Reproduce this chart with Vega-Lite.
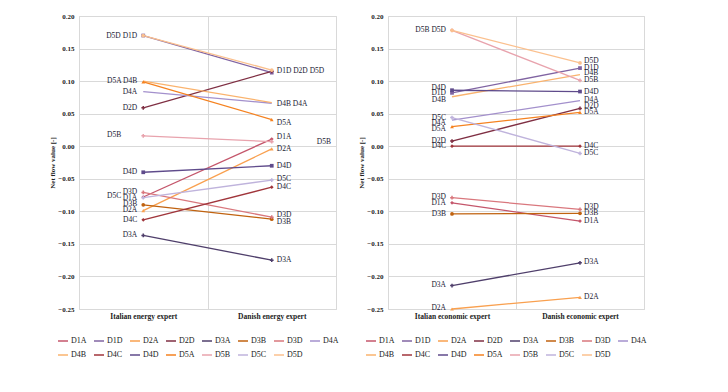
{
  "$schema": "https://vega.github.io/schema/vega-lite/v6.json",
  "padding": {"left": 48, "top": 11, "right": 5, "bottom": 5},
  "spacing": 17,
  "background": "white",
  "config": {
    "view": {"stroke": "#d9d9d9", "strokeWidth": 1},
    "font": "Liberation Serif",
    "axis": {"labelFont": "Liberation Serif", "titleFont": "Liberation Serif", "labelFontWeight": "bold", "titleFontWeight": "bold", "labelColor": "#222", "titleColor": "#222", "gridColor": "#d9d9d9", "domainColor": "#d9d9d9", "ticks": false, "labelOverlap": false},
    "legend": {"labelFont": "Liberation Serif", "labelFontSize": 8, "labelColor": "#222"}
  },
  "datasets": {
    "pts": [
      {"panel": "energy", "expert": "Italian energy expert", "series": "D1A", "value": -0.078},
      {"panel": "energy", "expert": "Danish energy expert", "series": "D1A", "value": 0.011},
      {"panel": "energy", "expert": "Italian energy expert", "series": "D1D", "value": 0.170},
      {"panel": "energy", "expert": "Danish energy expert", "series": "D1D", "value": 0.113},
      {"panel": "energy", "expert": "Italian energy expert", "series": "D2A", "value": -0.099},
      {"panel": "energy", "expert": "Danish energy expert", "series": "D2A", "value": -0.004},
      {"panel": "energy", "expert": "Italian energy expert", "series": "D2D", "value": 0.059},
      {"panel": "energy", "expert": "Danish energy expert", "series": "D2D", "value": 0.115},
      {"panel": "energy", "expert": "Italian energy expert", "series": "D3A", "value": -0.137},
      {"panel": "energy", "expert": "Danish energy expert", "series": "D3A", "value": -0.175},
      {"panel": "energy", "expert": "Italian energy expert", "series": "D3B", "value": -0.090},
      {"panel": "energy", "expert": "Danish energy expert", "series": "D3B", "value": -0.112},
      {"panel": "energy", "expert": "Italian energy expert", "series": "D3D", "value": -0.071},
      {"panel": "energy", "expert": "Danish energy expert", "series": "D3D", "value": -0.109},
      {"panel": "energy", "expert": "Italian energy expert", "series": "D4A", "value": 0.084},
      {"panel": "energy", "expert": "Danish energy expert", "series": "D4A", "value": 0.066},
      {"panel": "energy", "expert": "Italian energy expert", "series": "D4B", "value": 0.100},
      {"panel": "energy", "expert": "Danish energy expert", "series": "D4B", "value": 0.067},
      {"panel": "energy", "expert": "Italian energy expert", "series": "D4C", "value": -0.113},
      {"panel": "energy", "expert": "Danish energy expert", "series": "D4C", "value": -0.063},
      {"panel": "energy", "expert": "Italian energy expert", "series": "D4D", "value": -0.040},
      {"panel": "energy", "expert": "Danish energy expert", "series": "D4D", "value": -0.030},
      {"panel": "energy", "expert": "Italian energy expert", "series": "D5A", "value": 0.099},
      {"panel": "energy", "expert": "Danish energy expert", "series": "D5A", "value": 0.041},
      {"panel": "energy", "expert": "Italian energy expert", "series": "D5B", "value": 0.016},
      {"panel": "energy", "expert": "Danish energy expert", "series": "D5B", "value": 0.007},
      {"panel": "energy", "expert": "Italian energy expert", "series": "D5C", "value": -0.079},
      {"panel": "energy", "expert": "Danish energy expert", "series": "D5C", "value": -0.052},
      {"panel": "energy", "expert": "Italian energy expert", "series": "D5D", "value": 0.170},
      {"panel": "energy", "expert": "Danish energy expert", "series": "D5D", "value": 0.117},

      {"panel": "economic", "expert": "Italian economic expert", "series": "D1A", "value": -0.087},
      {"panel": "economic", "expert": "Danish economic expert", "series": "D1A", "value": -0.115},
      {"panel": "economic", "expert": "Italian economic expert", "series": "D1D", "value": 0.082},
      {"panel": "economic", "expert": "Danish economic expert", "series": "D1D", "value": 0.120},
      {"panel": "economic", "expert": "Italian economic expert", "series": "D2A", "value": -0.250},
      {"panel": "economic", "expert": "Danish economic expert", "series": "D2A", "value": -0.232},
      {"panel": "economic", "expert": "Italian economic expert", "series": "D2D", "value": 0.008},
      {"panel": "economic", "expert": "Danish economic expert", "series": "D2D", "value": 0.058},
      {"panel": "economic", "expert": "Italian economic expert", "series": "D3A", "value": -0.214},
      {"panel": "economic", "expert": "Danish economic expert", "series": "D3A", "value": -0.179},
      {"panel": "economic", "expert": "Italian economic expert", "series": "D3B", "value": -0.104},
      {"panel": "economic", "expert": "Danish economic expert", "series": "D3B", "value": -0.103},
      {"panel": "economic", "expert": "Italian economic expert", "series": "D3D", "value": -0.079},
      {"panel": "economic", "expert": "Danish economic expert", "series": "D3D", "value": -0.097},
      {"panel": "economic", "expert": "Italian economic expert", "series": "D4A", "value": 0.040},
      {"panel": "economic", "expert": "Danish economic expert", "series": "D4A", "value": 0.070},
      {"panel": "economic", "expert": "Italian economic expert", "series": "D4B", "value": 0.076},
      {"panel": "economic", "expert": "Danish economic expert", "series": "D4B", "value": 0.110},
      {"panel": "economic", "expert": "Italian economic expert", "series": "D4C", "value": 0.000},
      {"panel": "economic", "expert": "Danish economic expert", "series": "D4C", "value": 0.000},
      {"panel": "economic", "expert": "Italian economic expert", "series": "D4D", "value": 0.086},
      {"panel": "economic", "expert": "Danish economic expert", "series": "D4D", "value": 0.084},
      {"panel": "economic", "expert": "Italian economic expert", "series": "D5A", "value": 0.030},
      {"panel": "economic", "expert": "Danish economic expert", "series": "D5A", "value": 0.052},
      {"panel": "economic", "expert": "Italian economic expert", "series": "D5B", "value": 0.178},
      {"panel": "economic", "expert": "Danish economic expert", "series": "D5B", "value": 0.101},
      {"panel": "economic", "expert": "Italian economic expert", "series": "D5C", "value": 0.044},
      {"panel": "economic", "expert": "Danish economic expert", "series": "D5C", "value": -0.011},
      {"panel": "economic", "expert": "Italian economic expert", "series": "D5D", "value": 0.178},
      {"panel": "economic", "expert": "Danish economic expert", "series": "D5D", "value": 0.128}
    ],
    "labs": [
      {"panel": "energy", "expert": "Italian energy expert", "label": "D5D  D1D", "value": 0.170},
      {"panel": "energy", "expert": "Italian energy expert", "label": "D5A  D4B", "value": 0.100},
      {"panel": "energy", "expert": "Italian energy expert", "label": "D4A", "value": 0.084},
      {"panel": "energy", "expert": "Italian energy expert", "label": "D2D", "value": 0.059},
      {"panel": "energy", "expert": "Italian energy expert", "label": "D5B", "value": 0.017},
      {"panel": "energy", "expert": "Italian energy expert", "label": "D4D", "value": -0.040},
      {"panel": "energy", "expert": "Italian energy expert", "label": "D3D", "value": -0.070},
      {"panel": "energy", "expert": "Italian energy expert", "label": "D5C", "value": -0.077},
      {"panel": "energy", "expert": "Italian energy expert", "label": "D1A", "value": -0.0795},
      {"panel": "energy", "expert": "Italian energy expert", "label": "D3B", "value": -0.088},
      {"panel": "energy", "expert": "Italian energy expert", "label": "D2A", "value": -0.098},
      {"panel": "energy", "expert": "Italian energy expert", "label": "D4C", "value": -0.113},
      {"panel": "energy", "expert": "Italian energy expert", "label": "D3A", "value": -0.137},
      {"panel": "energy", "expert": "Danish energy expert", "label": "D1D  D2D   D5D", "value": 0.115},
      {"panel": "energy", "expert": "Danish energy expert", "label": "D4B  D4A", "value": 0.065},
      {"panel": "energy", "expert": "Danish energy expert", "label": "D5A", "value": 0.036},
      {"panel": "energy", "expert": "Danish energy expert", "label": "D1A", "value": 0.014},
      {"panel": "energy", "expert": "Danish energy expert", "label": "D5B", "value": 0.007},
      {"panel": "energy", "expert": "Danish energy expert", "label": "D2A", "value": -0.005},
      {"panel": "energy", "expert": "Danish energy expert", "label": "D4D", "value": -0.030},
      {"panel": "energy", "expert": "Danish energy expert", "label": "D5C", "value": -0.050},
      {"panel": "energy", "expert": "Danish energy expert", "label": "D4C", "value": -0.062},
      {"panel": "energy", "expert": "Danish energy expert", "label": "D3D", "value": -0.1055},
      {"panel": "energy", "expert": "Danish energy expert", "label": "D3B", "value": -0.116},
      {"panel": "energy", "expert": "Danish energy expert", "label": "D3A", "value": -0.175},

      {"panel": "economic", "expert": "Italian economic expert", "label": "D5B  D5D", "value": 0.178},
      {"panel": "economic", "expert": "Italian economic expert", "label": "D4D", "value": 0.090},
      {"panel": "economic", "expert": "Italian economic expert", "label": "D1D", "value": 0.081},
      {"panel": "economic", "expert": "Italian economic expert", "label": "D4B", "value": 0.071},
      {"panel": "economic", "expert": "Italian economic expert", "label": "D5C", "value": 0.044},
      {"panel": "economic", "expert": "Italian economic expert", "label": "D4A", "value": 0.035},
      {"panel": "economic", "expert": "Italian economic expert", "label": "D5A", "value": 0.026},
      {"panel": "economic", "expert": "Italian economic expert", "label": "D2D", "value": 0.008},
      {"panel": "economic", "expert": "Italian economic expert", "label": "D4C", "value": 0.000},
      {"panel": "economic", "expert": "Italian economic expert", "label": "D3D", "value": -0.078},
      {"panel": "economic", "expert": "Italian economic expert", "label": "D1A", "value": -0.087},
      {"panel": "economic", "expert": "Italian economic expert", "label": "D3B", "value": -0.1035},
      {"panel": "economic", "expert": "Italian economic expert", "label": "D3A", "value": -0.213},
      {"panel": "economic", "expert": "Italian economic expert", "label": "D2A", "value": -0.248},
      {"panel": "economic", "expert": "Danish economic expert", "label": "D5D", "value": 0.131},
      {"panel": "economic", "expert": "Danish economic expert", "label": "D1D", "value": 0.120},
      {"panel": "economic", "expert": "Danish economic expert", "label": "D4B", "value": 0.112},
      {"panel": "economic", "expert": "Danish economic expert", "label": "D5B", "value": 0.102},
      {"panel": "economic", "expert": "Danish economic expert", "label": "D4D", "value": 0.084},
      {"panel": "economic", "expert": "Danish economic expert", "label": "D4A", "value": 0.071},
      {"panel": "economic", "expert": "Danish economic expert", "label": "D2D", "value": 0.0625},
      {"panel": "economic", "expert": "Danish economic expert", "label": "D5A", "value": 0.053},
      {"panel": "economic", "expert": "Danish economic expert", "label": "D4C", "value": 0.000},
      {"panel": "economic", "expert": "Danish economic expert", "label": "D5C", "value": -0.010},
      {"panel": "economic", "expert": "Danish economic expert", "label": "D3D", "value": -0.094},
      {"panel": "economic", "expert": "Danish economic expert", "label": "D3B", "value": -0.102},
      {"panel": "economic", "expert": "Danish economic expert", "label": "D1A", "value": -0.115},
      {"panel": "economic", "expert": "Danish economic expert", "label": "D3A", "value": -0.178},
      {"panel": "economic", "expert": "Danish economic expert", "label": "D2A", "value": -0.232}
    ]
  },
  "resolve": {"scale": {"color": "independent", "fill": "independent", "shape": "independent", "x": "independent"}, "legend": {"color": "independent"}},
  "hconcat": [
    {
      "width": 257,
      "height": 293,
      "encoding": {
        "x": {"field": "expert", "type": "nominal", "sort": ["Italian energy expert", "Danish energy expert"], "scale": {"type": "band", "paddingInner": 0, "paddingOuter": 0}, "axis": {"title": null, "labelAngle": 0, "tickBand": "extent", "grid": true, "labelFontSize": 7.5, "labelPadding": 3, "domain": false}},
        "y": {"field": "value", "type": "quantitative", "scale": {"domain": [-0.25, 0.2], "nice": false}, "axis": {"title": "Net flow value [-]", "format": ".2f", "values": [-0.25, -0.2, -0.15, -0.1, -0.05, 0, 0.05, 0.1, 0.15, 0.2], "labelOverlap": false, "labelFontSize": 7, "titleFontSize": 7, "labelPadding": 5, "titlePadding": 2, "domain": false}}
      },
      "layer": [
        {
          "data": {"name": "pts"},
          "transform": [{"filter": "datum.panel == 'energy'"}],
          "mark": {"type": "line", "strokeWidth": 1.3},
          "encoding": {
            "color": {"field": "series", "type": "nominal", "scale": {"domain": ["D1A","D1D","D2A","D2D","D3A","D3B","D3D","D4A","D4B","D4C","D4D","D5A","D5B","D5C","D5D"], "range": ["#c4566b","#8064a2","#f9a04f","#7f2f43","#4f3f6b","#c0620f","#d9777d","#a390cc","#fab36e","#a0353b","#5f4b8b","#f58220","#e8a3ad","#bfb3dc","#fbc08e"]}, "legend": {"title": null, "orient": "none", "legendX": -22, "legendY": 319, "direction": "horizontal", "columns": 8, "symbolType": "stroke", "symbolSize": 100, "symbolStrokeWidth": 1.5, "columnPadding": 4, "gridAlign": "all", "labelLimit": 30, "labelOffset": 2, "rowPadding": 4}},
            "detail": {"field": "series"}
          }
        },
        {
          "data": {"name": "pts"},
          "transform": [{"filter": "datum.panel == 'energy'"}],
          "mark": {"type": "point", "filled": true, "size": 14, "opacity": 1, "strokeWidth": 0},
          "encoding": {
            "fill": {"field": "series", "type": "nominal", "scale": {"domain": ["D5D","D5C","D5B","D5A","D4D","D4C","D4B","D4A","D3D","D3B","D3A","D2D","D2A","D1D","D1A"], "range": ["#fbc08e","#bfb3dc","#e8a3ad","#f58220","#5f4b8b","#a0353b","#fab36e","#a390cc","#d9777d","#c0620f","#4f3f6b","#7f2f43","#f9a04f","#8064a2","#c4566b"]}, "legend": null},
            "shape": {"field": "series", "type": "nominal", "scale": {"domain": ["D5D","D5C","D5B","D5A","D4D","D4C","D4B","D4A","D3D","D3B","D3A","D2D","D2A","D1D","D1A"], "range": ["circle","cross","cross","triangle-up","square","diamond","stroke","stroke","cross","circle","cross","cross","triangle-up","square","diamond"]}, "legend": null}
          }
        },
        {
          "data": {"name": "labs"},
          "transform": [{"filter": "datum.panel == 'energy' && datum.expert == 'Italian energy expert' && datum.label != 'D5B' && datum.label != 'D5C'"}],
          "mark": {"type": "text", "align": "right", "baseline": "middle", "dx": -6, "fontSize": 7.5, "font": "Liberation Serif", "color": "#1a1a33"},
          "encoding": {"text": {"field": "label"}}
        },
        {
          "data": {"name": "labs"},
          "transform": [{"filter": "datum.panel == 'energy' && datum.expert == 'Italian energy expert' && (datum.label == 'D5B' || datum.label == 'D5C')"}],
          "mark": {"type": "text", "align": "right", "baseline": "middle", "dx": -22, "fontSize": 7.5, "font": "Liberation Serif", "color": "#1a1a33"},
          "encoding": {"text": {"field": "label"}}
        },
        {
          "data": {"name": "labs"},
          "transform": [{"filter": "datum.panel == 'energy' && datum.expert == 'Danish energy expert' && datum.label != 'D5B'"}],
          "mark": {"type": "text", "align": "left", "baseline": "middle", "dx": 5, "fontSize": 7.5, "font": "Liberation Serif", "color": "#1a1a33"},
          "encoding": {"text": {"field": "label"}}
        },
        {
          "data": {"name": "labs"},
          "transform": [{"filter": "datum.panel == 'energy' && datum.expert == 'Danish energy expert' && datum.label == 'D5B'"}],
          "mark": {"type": "text", "align": "left", "baseline": "middle", "dx": 45, "fontSize": 7.5, "font": "Liberation Serif", "color": "#1a1a33"},
          "encoding": {"text": {"field": "label"}}
        }
      ]
    },
    {
      "width": 256,
      "height": 293,
      "encoding": {
        "x": {"field": "expert", "type": "nominal", "sort": ["Italian economic expert", "Danish economic expert"], "scale": {"type": "band", "paddingInner": 0, "paddingOuter": 0}, "axis": {"title": null, "labelAngle": 0, "tickBand": "extent", "grid": true, "labelFontSize": 7.5, "labelPadding": 3, "domain": false}},
        "y": {"field": "value", "type": "quantitative", "scale": {"domain": [-0.25, 0.2], "nice": false}, "axis": {"title": "Net flow value [-]", "format": ".2f", "values": [-0.25, -0.2, -0.15, -0.1, -0.05, 0, 0.05, 0.1, 0.15, 0.2], "labelOverlap": false, "labelFontSize": 7, "titleFontSize": 7, "labelPadding": 5, "titlePadding": 2, "domain": false}}
      },
      "layer": [
        {
          "data": {"name": "pts"},
          "transform": [{"filter": "datum.panel == 'economic'"}],
          "mark": {"type": "line", "strokeWidth": 1.3},
          "encoding": {
            "color": {"field": "series", "type": "nominal", "scale": {"domain": ["D1A","D1D","D2A","D2D","D3A","D3B","D3D","D4A","D4B","D4C","D4D","D5A","D5B","D5C","D5D"], "range": ["#c4566b","#8064a2","#f9a04f","#7f2f43","#4f3f6b","#c0620f","#d9777d","#a390cc","#fab36e","#a0353b","#5f4b8b","#f58220","#e8a3ad","#bfb3dc","#fbc08e"]}, "legend": {"title": null, "orient": "none", "legendX": -23, "legendY": 319, "direction": "horizontal", "columns": 8, "symbolType": "stroke", "symbolSize": 100, "symbolStrokeWidth": 1.5, "columnPadding": 4, "gridAlign": "all", "labelLimit": 30, "labelOffset": 2, "rowPadding": 4}},
            "detail": {"field": "series"}
          }
        },
        {
          "data": {"name": "pts"},
          "transform": [{"filter": "datum.panel == 'economic'"}],
          "mark": {"type": "point", "filled": true, "size": 14, "opacity": 1, "strokeWidth": 0},
          "encoding": {
            "fill": {"field": "series", "type": "nominal", "scale": {"domain": ["D5D","D5C","D5B","D5A","D4D","D4C","D4B","D4A","D3D","D3B","D3A","D2D","D2A","D1D","D1A"], "range": ["#fbc08e","#bfb3dc","#e8a3ad","#f58220","#5f4b8b","#a0353b","#fab36e","#a390cc","#d9777d","#c0620f","#4f3f6b","#7f2f43","#f9a04f","#8064a2","#c4566b"]}, "legend": null},
            "shape": {"field": "series", "type": "nominal", "scale": {"domain": ["D5D","D5C","D5B","D5A","D4D","D4C","D4B","D4A","D3D","D3B","D3A","D2D","D2A","D1D","D1A"], "range": ["circle","cross","cross","triangle-up","square","diamond","stroke","stroke","cross","circle","cross","cross","triangle-up","square","diamond"]}, "legend": null}
          }
        },
        {
          "data": {"name": "labs"},
          "transform": [{"filter": "datum.panel == 'economic' && datum.expert == 'Italian economic expert'"}],
          "mark": {"type": "text", "align": "right", "baseline": "middle", "dx": -6, "fontSize": 7.5, "font": "Liberation Serif", "color": "#1a1a33"},
          "encoding": {"text": {"field": "label"}}
        },
        {
          "data": {"name": "labs"},
          "transform": [{"filter": "datum.panel == 'economic' && datum.expert == 'Danish economic expert'"}],
          "mark": {"type": "text", "align": "left", "baseline": "middle", "dx": 4, "fontSize": 7.5, "font": "Liberation Serif", "color": "#1a1a33"},
          "encoding": {"text": {"field": "label"}}
        }
      ]
    }
  ]
}
